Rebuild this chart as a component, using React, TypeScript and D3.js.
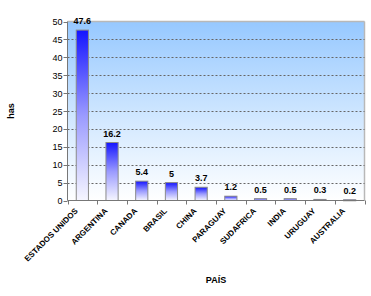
import React from "react";
import * as d3 from "d3";

const categories = ["ESTADOS UNIDOS", "ARGENTINA", "CANADA", "BRASIL", "CHINA", "PARAGUAY", "SUDAFRICA", "INDIA", "URUGUAY", "AUSTRALIA"];
const values = [47.6, 16.2, 5.4, 5, 3.7, 1.2, 0.5, 0.5, 0.3, 0.2];
const yTicks = [0, 5, 10, 15, 20, 25, 30, 35, 40, 45, 50];

const W = 371, H = 296;
const left = 67.5, right = 364.5, top = 21.5, bottom = 200.5;
const font = "'Liberation Sans', Arial, sans-serif";

export default function App() {
  const x = d3.scaleBand<string>().domain(categories).range([left, right]).padding(0);
  const y = d3.scaleLinear().domain([0, 50]).range([bottom, top]);
  const bw = x.bandwidth() * 0.41;
  return (
    <svg width={W} height={H} style={{ position: "absolute", left: 0, top: 0, background: "#fff" }} fontFamily={font}>
      <defs>
        <linearGradient id="bg" x1="0" y1="0" x2="0" y2="1">
          <stop offset="0" stopColor="#96c8ff" />
          <stop offset="0.55" stopColor="#d2e8ff" />
          <stop offset="1" stopColor="#ffffff" />
        </linearGradient>
        <linearGradient id="bar" x1="0" y1="0" x2="0" y2="1">
          <stop offset="0" stopColor="#1414ff" />
          <stop offset="0.5" stopColor="#9a9aff" />
          <stop offset="1" stopColor="#f6f6ff" />
        </linearGradient>
      </defs>
      <rect x={left} y={top} width={right - left} height={bottom - top} fill="url(#bg)" />
      <line x1={left} x2={right} y1={top} y2={top} stroke="#b8b8b8" strokeWidth={1.5} />
      <line x1={right} x2={right} y1={top} y2={bottom} stroke="#b8b8b8" strokeWidth={1.5} />
      {yTicks.filter(t => t > 0 && t < 50).map(t => (
        <line key={t} x1={left} x2={right} y1={Math.round(y(t)) + 0.5} y2={Math.round(y(t)) + 0.5} stroke="#666" strokeDasharray="2,2" strokeWidth={1} />
      ))}
      {categories.map((c, i) => {
        const cx = (x(c) as number) + x.bandwidth() / 2;
        const yt = y(values[i]);
        return (
          <g key={c}>
            <rect x={cx - bw / 2} y={yt} width={bw} height={Math.max(bottom - yt, 1)} fill="url(#bar)" stroke="#8a8a8a" strokeWidth={1} />
            <text x={cx} y={yt - 6} textAnchor="middle" fontSize={9} fontWeight="bold" fill="#000">{values[i]}</text>
            <text transform={`translate(${cx - 4},${bottom + 11}) rotate(-45)`} textAnchor="end" fontSize={8} fontWeight="bold" fill="#000">{c}</text>
          </g>
        );
      })}
      <line x1={left} x2={left} y1={top} y2={bottom} stroke="#777" />
      <line x1={left} x2={right} y1={bottom} y2={bottom} stroke="#777" />
      {yTicks.map(t => (
        <g key={t}>
          <line x1={left - 4} x2={left} y1={Math.round(y(t)) + 0.5} y2={Math.round(y(t)) + 0.5} stroke="#777" />
          <text x={left - 5} y={y(t) + 3.5} textAnchor="end" fontSize={9} fill="#000">{t}</text>
        </g>
      ))}
      {categories.concat([""]).map((c, i) => {
        const xv = Math.round(left + i * x.step()) + 0.5;
        return <line key={i} x1={xv} x2={xv} y1={bottom} y2={bottom + 4} stroke="#777" />;
      })}
      <text transform={`translate(14,${(top + bottom) / 2}) rotate(-90)`} textAnchor="middle" fontSize={9} fontWeight="bold">has</text>
      <text x={(left + right) / 2} y={283} textAnchor="middle" fontSize={9} fontWeight="bold">PAÍS</text>
    </svg>
  );
}
